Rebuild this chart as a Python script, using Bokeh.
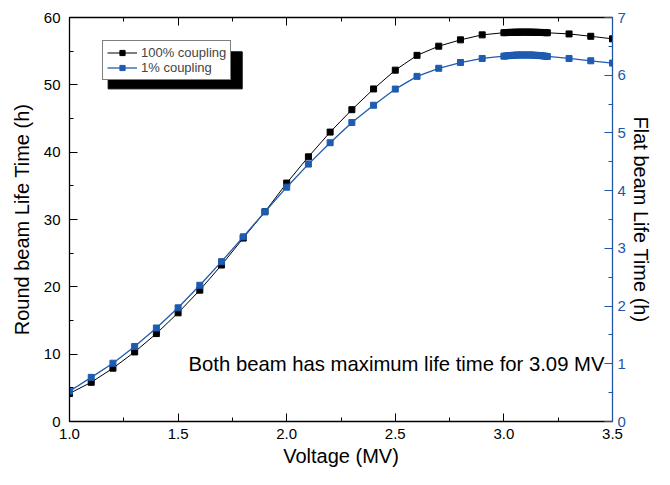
from bokeh.plotting import figure
from bokeh.models import (Range1d, LinearAxis, SingleIntervalTicker, NumeralTickFormatter,
                          CustomJSTickFormatter, Label, Legend, LegendItem)
from bokeh.embed import file_html
from bokeh.resources import INLINE

# ---- data ----
voltage = [1.0, 1.1, 1.2, 1.3, 1.4, 1.5, 1.6, 1.7, 1.8, 1.9,
           2.0, 2.1, 2.2, 2.3, 2.4, 2.5, 2.6, 2.7, 2.8, 2.9,
           3.00, 3.01, 3.02, 3.03, 3.04, 3.05, 3.06, 3.07, 3.08, 3.09,
           3.10, 3.11, 3.12, 3.13, 3.14, 3.15, 3.16, 3.17, 3.18, 3.19, 3.20,
           3.3, 3.4, 3.5]
# 100% coupling -> round beam life time (h), left axis
round_life = [4.17, 5.82, 7.92, 10.33, 13.06, 16.14, 19.51, 23.24, 27.24, 31.16,
              35.41, 39.31, 42.98, 46.31, 49.39, 52.18, 54.38, 55.74, 56.68, 57.42,
              57.74, 57.76, 57.78, 57.79, 57.80, 57.81, 57.82, 57.82, 57.83, 57.83,
              57.83, 57.83, 57.82, 57.82, 57.81, 57.80, 57.79, 57.78, 57.77, 57.75, 57.73,
              57.56, 57.21, 56.83]
# 1% coupling -> flat beam life time (h), right axis
flat_life = [0.525, 0.765, 1.01, 1.30, 1.62, 1.97, 2.36, 2.77, 3.20, 3.635,
             4.06, 4.46, 4.83, 5.18, 5.48, 5.76, 5.98, 6.12, 6.22, 6.29,
             6.33, 6.335, 6.34, 6.34, 6.345, 6.345, 6.35, 6.35, 6.35, 6.35,
             6.35, 6.35, 6.35, 6.35, 6.345, 6.345, 6.34, 6.34, 6.335, 6.33, 6.325,
             6.29, 6.25, 6.21]

series_labels = ["100% coupling", "1% coupling"]
x_title = "Voltage (MV)"
y_left_title = "Round beam Life Time (h)"
y_right_title = "Flat beam Life Time (h)"
note = "Both beam has maximum life time for 3.09 MV"

FONT = "Liberation Sans"
BLUE = "#1f5bb0"
AXBLUE = "#2456a8"

p = figure(width=654, height=469, output_backend="svg", toolbar_location=None,
           x_range=Range1d(1.0, 3.5), y_range=Range1d(0, 60),
           min_border_left=69, min_border_right=30, min_border_top=17, min_border_bottom=43,
           x_axis_location=None, y_axis_location=None)
p.extra_y_ranges = {"right": Range1d(0, 7)}
p.grid.visible = False
p.outline_line_color = None
p.background_fill_color = "white"
p.border_fill_color = "white"


def style_axis(ax, color="black", label_color="black"):
    ax.axis_line_color = color
    ax.axis_line_width = 1.3
    ax.major_tick_line_color = color
    ax.minor_tick_line_color = color
    ax.major_tick_in = 8
    ax.major_tick_out = 0
    ax.minor_tick_in = 4
    ax.minor_tick_out = 0
    ax.major_label_text_font = FONT
    ax.major_label_text_font_size = "15px"
    ax.major_label_text_color = label_color
    ax.major_label_standoff = 9
    ax.axis_label_text_font = FONT
    ax.axis_label_text_font_size = "20px"
    ax.axis_label_text_font_style = "normal"
    ax.axis_label_text_color = "black"


xb = LinearAxis(ticker=SingleIntervalTicker(interval=0.5, num_minor_ticks=2),
                formatter=NumeralTickFormatter(format="0.0"), axis_label=x_title)
style_axis(xb)
xb.major_label_standoff = 7
xb.axis_label_standoff = 3
p.add_layout(xb, "below")

xt = LinearAxis(ticker=SingleIntervalTicker(interval=0.5, num_minor_ticks=2),
                formatter=CustomJSTickFormatter(code="return ''"))
style_axis(xt)
xt.major_label_standoff = 0
p.add_layout(xt, "above")

yl = LinearAxis(ticker=SingleIntervalTicker(interval=10, num_minor_ticks=2), axis_label=y_left_title)
style_axis(yl)
yl.axis_label_standoff = 8
p.add_layout(yl, "left")

yr = LinearAxis(y_range_name="right", ticker=SingleIntervalTicker(interval=1, num_minor_ticks=2),
                axis_label=y_right_title)
style_axis(yr, color=AXBLUE, label_color=AXBLUE)
yr.major_label_standoff = 5
yr.axis_label_standoff = 1
p.add_layout(yr, "right")

# legend shadow (data coordinates on left axis)
p.quad(left=[1.178], right=[1.795], top=[54.9], bottom=[49.4],
       fill_color="black", line_color="black")

lb = p.line(voltage, round_life, line_color="black", line_width=1)
sb = p.scatter(voltage, round_life, marker="square", size=6,
               fill_color="black", line_color="black")
lf = p.line(voltage, flat_life, line_color=BLUE, line_width=1.3, y_range_name="right")
sf = p.scatter(voltage, flat_life, marker="square", size=6,
               fill_color=BLUE, line_color=BLUE, y_range_name="right")

legend = Legend(items=[LegendItem(label=series_labels[0], renderers=[lb, sb]),
                       LegendItem(label=series_labels[1], renderers=[lf, sf])],
                location=(33, 341), orientation="vertical",
                border_line_color="black", border_line_width=1,
                background_fill_color="white", background_fill_alpha=1.0,
                padding=4, spacing=0, margin=0,
                glyph_width=30, glyph_height=13, label_height=13,
                label_standoff=4,
                label_text_font=FONT, label_text_font_size="13px")
p.add_layout(legend)

p.add_layout(Label(x=3.463, y=8.5, text=note, text_font=FONT, text_font_size="20.3px",
                   text_align="right", text_baseline="middle", text_color="black"))

open("out.html", "w").write(file_html(p, INLINE))
